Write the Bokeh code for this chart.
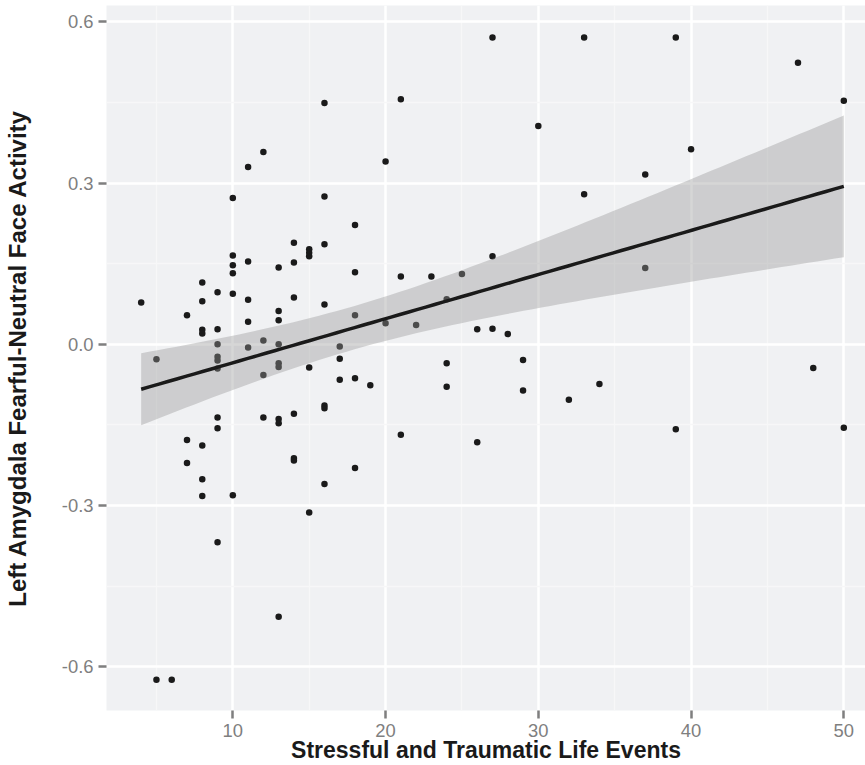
import numpy as np
from bokeh.plotting import figure
from bokeh.models import FixedTicker, NumeralTickFormatter, Range1d, ColumnDataSource
from bokeh.embed import file_html
from bokeh.resources import INLINE

# ---- data ----
events = [4,
          5, 5,
          6,
          7, 7, 7,
          8, 8, 8, 8, 8, 8, 8,
          9, 9, 9, 9, 9, 9, 9, 9, 9,
          10, 10, 10, 10, 10, 10,
          11, 11, 11, 11, 11,
          12, 12, 12, 12,
          13, 13, 13, 13, 13, 13, 13, 13, 13,
          14, 14, 14, 14, 14, 14,
          15, 15, 15, 15, 15,
          16, 16, 16, 16, 16, 16, 16,
          17, 17, 17,
          18, 18, 18, 18, 18,
          19,
          20, 20,
          21, 21, 21,
          22,
          23,
          24, 24, 24,
          25,
          26, 26,
          27, 27, 27,
          28,
          29, 29,
          30,
          32,
          33, 33,
          34,
          37, 37,
          39, 39,
          40,
          47,
          48,
          50, 50]

activity = [0.078,
            -0.028, -0.624,
            -0.624,
            0.054, -0.178, -0.221,
            0.115, 0.080, 0.027, 0.020, -0.188, -0.251, -0.282,
            0.097, 0.028, 0.000, -0.023, -0.030, -0.045, -0.136, -0.156, -0.368,
            0.272, 0.165, 0.147, 0.132, 0.094, -0.281,
            0.330, 0.154, 0.083, 0.042, -0.006,
            0.358, 0.007, -0.057, -0.136,
            0.143, 0.062, 0.045, 0.000, -0.035, -0.042, -0.139, -0.147, -0.507,
            0.189, 0.152, 0.087, -0.129, -0.212, -0.216,
            0.177, 0.170, 0.164, -0.043, -0.313,
            0.449, 0.275, 0.186, 0.074, -0.114, -0.119, -0.260,
            -0.004, -0.027, -0.066,
            0.222, 0.134, 0.054, -0.063, -0.230,
            -0.076,
            0.340, 0.039,
            0.456, 0.126, -0.168,
            0.036,
            0.126,
            0.084, -0.035, -0.079,
            0.131,
            0.028, -0.182,
            0.571, 0.164, 0.029,
            0.019,
            -0.029, -0.086,
            0.406,
            -0.103,
            0.571, 0.279,
            -0.074,
            0.316, 0.142,
            0.571, -0.158,
            0.363,
            0.524,
            -0.044,
            0.453, -0.155]

x_ticks = [10, 20, 30, 40, 50]
x_minor = [5, 15, 25, 35, 45]
y_ticks = [-0.6, -0.3, 0.0, 0.3, 0.6]
y_minor = [-0.45, -0.15, 0.15, 0.45]

# ---- linear fit with 95% confidence band (as geom_smooth(method="lm")) ----
xa = np.array(events, dtype=float)
ya = np.array(activity, dtype=float)
n = len(xa)
slope, intercept = np.polyfit(xa, ya, 1)
resid = ya - (intercept + slope * xa)
df = n - 2
s = np.sqrt(np.sum(resid ** 2) / df)
z = 1.959964
tq = z + (z ** 3 + z) / (4 * df) + (5 * z ** 5 + 16 * z ** 3 + 3 * z) / (96 * df ** 2)
xg = np.linspace(xa.min(), xa.max(), 80)
yg = intercept + slope * xg
se = s * np.sqrt(1.0 / n + (xg - xa.mean()) ** 2 / np.sum((xa - xa.mean()) ** 2))
fit = ColumnDataSource(dict(x=xg, y=yg, lo=yg - tq * se, hi=yg + tq * se))
pts = ColumnDataSource(dict(x=events, y=activity))

FONT = "Liberation Sans"

p = figure(width=865, height=765, output_backend="svg", toolbar_location=None,
           x_range=Range1d(1.73, 51.42), y_range=Range1d(-0.6812, 0.6303),
           min_border_left=106, min_border_right=0, min_border_top=5,
           min_border_bottom=54)
p.background_fill_color = "#F0F1F3"
p.border_fill_color = "white"
p.outline_line_color = None

p.xaxis.ticker = FixedTicker(ticks=x_ticks, minor_ticks=x_minor)
p.yaxis.ticker = FixedTicker(ticks=y_ticks, minor_ticks=y_minor)
p.yaxis.formatter = NumeralTickFormatter(format="0.0")

for ax in (p.xaxis, p.yaxis):
    ax.axis_line_color = None
    ax.major_tick_line_color = "#7f7f7f"
    ax.major_tick_line_width = 2.5
    ax.major_tick_out = 8
    ax.major_tick_in = 0
    ax.minor_tick_line_color = None
    ax.major_label_text_font = FONT
    ax.major_label_text_font_size = "18.4px"
    ax.major_label_text_color = "#7f7f7f"
    ax.axis_label_text_font = FONT
    ax.axis_label_text_font_style = "bold"
    ax.axis_label_text_color = "#1a1a1a"

p.xaxis.axis_label_text_font_size = "23px"
p.yaxis.axis_label_text_font_size = "24px"
p.xaxis.axis_label = "Stressful and Traumatic Life Events"
p.yaxis.axis_label = "Left Amygdala Fearful-Neutral Face Activity"
p.xaxis.major_label_standoff = 5
p.xaxis.axis_label_standoff = -3
p.yaxis.major_label_standoff = 5
p.yaxis.axis_label_standoff = 28

for g in (p.xgrid, p.ygrid):
    g.grid_line_color = "white"
    g.grid_line_width = 2.5
    g.minor_grid_line_color = "#F7F7F8"
    g.minor_grid_line_width = 1.3

p.scatter("x", "y", source=pts, size=6.5, color="#1a1a1a", line_color=None)
p.varea(x="x", y1="lo", y2="hi", source=fit, fill_color="#999999", fill_alpha=0.4)
p.line("x", "y", source=fit, line_color="#1a1a1a", line_width=3.5)

open("out.html", "w").write(file_html(p, INLINE))
